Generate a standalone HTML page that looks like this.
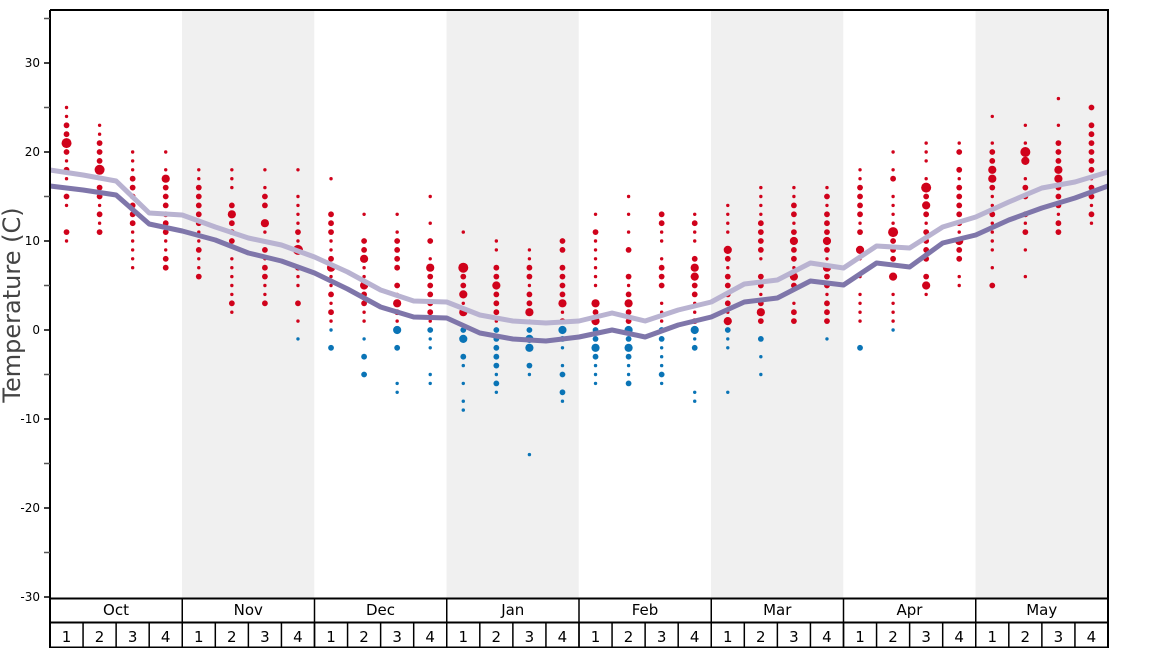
<!DOCTYPE html>
<html><head><meta charset="utf-8"><style>
body{margin:0;background:#fff}
svg{display:block;font-family:"DejaVu Sans","Liberation Sans",sans-serif}
</style></head><body>
<svg id="s" width="1168" height="648" viewBox="0 0 1168 648" xmlns="http://www.w3.org/2000/svg">
<rect x="182" y="10" width="132.25" height="588" fill="#f0f0f0"/>
<rect x="446.5" y="10" width="132.25" height="588" fill="#f0f0f0"/>
<rect x="711" y="10" width="132.25" height="588" fill="#f0f0f0"/>
<rect x="975.5" y="10" width="132.5" height="588" fill="#f0f0f0"/>
<g id="dots"></g>
<polyline id="l1" fill="none" stroke="#b9b3d1" stroke-width="5" stroke-linejoin="round"/>
<polyline id="l2" fill="none" stroke="#7f76aa" stroke-width="5" stroke-linejoin="round"/>
<g id="ax" stroke="#000" fill="none"></g>
<g id="tx" font-size="12" fill="#000"></g>
<text x="20" y="305" font-size="24" fill="#444" text-anchor="middle" transform="rotate(-90 20 305)">Temperature (C)</text>
</svg>
<script>
var NS="http://www.w3.org/2000/svg";
function el(p,t,a,txt){var e=document.createElementNS(NS,t);for(var k in a)e.setAttribute(k,a[k]);if(txt!=null)e.textContent=txt;p.appendChild(e);return e;}
var Y=function(T){return 330-8.9*T;};
var dark=[186,190,195,224,231,240,253,261,273,289,307,317,318,333,339,341,337,330,337,325,317,302,298,281,285,263,267,243,235,220,208,198,186];
var light=[170,175,181,213,215,227,238,245,257,272,290,301,302,315,321,323,321,313,321,310,302,284,280,263,268,246,248,227,217,202,188,182,172];
var bx=function(i){return 50+1058*i/32;};
document.getElementById('l1').setAttribute('points',light.map(function(y,i){return bx(i)+','+y}).join(' '));
document.getElementById('l2').setAttribute('points',dark.map(function(y,i){return bx(i)+','+y}).join(' '));
var cols=[
"25s 24s 23m 22m 21X 20m 19s 18m 17s 16s 15m 14s 11m 10s",
"23s 22s 21m 20m 19m 18X 17s 16m 15m 14s 13m 12s 11m",
"20s 19s 18s 17m 16m 15m 14m 13m 12m 11s 10s 9s 8s 7s",
"20s 18s 17L 16m 15m 14m 13m 12m 11m 10s 9s 8m 7m",
"18s 17s 16m 15m 14m 13m 12m 11s 10s 9m 8s 7s 6m",
"18s 17s 16s 14m 13L 12m 11m 10m 8s 7s 6s 5s 4s 3m 2s",
"18s 16s 15m 14m 12L 11s 10s 9m 8s 7m 6m 5s 4s 3m",
"18s 15s 14s 13s 12s 11m 10s 9X 7m 6s 5s 3m 1s -1s",
"17s 13m 12m 11m 10s 9s 8m 7L 6s 5s 4m 3s 2m 1s 0s -2m",
"13s 10m 9m 8L 7s 6s 5L 4m 3m 2s 1s -1s -3m -5m",
"13s 11s 10m 9m 8m 7m 5m 4s 3L 2m 1s 0L -2m -6s -7s",
"15s 12s 10m 8s 7L 6m 5m 4m 3m 2m 1s 0m -1s -2s -5s -6s",
"11s 7X 6m 5m 4L 3s 2L 0m -1L -3m -4s -6s -8s -9s",
"10s 9s 7m 6m 5L 4m 3m 2m 1s 0m -1m -2m -3m -4m -5s -6m -7s",
"9s 8s 7m 6m 5s 4m 3m 2L 1s 0m -1L -2L -4m -5s -14s",
"10m 9m 7m 6m 5m 4m 3L 2s 1m 0L -1m -2s -4s -5m -7m -8s",
"13s 11m 10s 9s 8s 7s 6s 5s 3L 2m 1L 0m -1m -2L -3m -4s -5s -6s",
"15s 13s 11s 9m 6m 5s 4m 3L 2m 1m 0L -1m -2L -3m -4s -5s -6m",
"13m 12m 11s 10s 8s 7m 6m 5m 3s 2s 1s 0m -1m -2s -3s -4s -5m -6s",
"13s 12m 11s 10s 8m 7L 6L 5m 4m 3s 2s 1m 0L -1s -2m -7s -8s",
"14s 13s 12s 11s 9L 8m 7s 6m 5m 4m 3m 2s 1L 0m -1s -2s -7s",
"16s 15s 14s 13s 12m 11m 10m 9m 8s 6m 5m 4s 3m 2L 1m -1m -3s -5s",
"16s 15s 14m 13m 12s 11m 10L 9m 8m 7s 6L 5m 3s 2m 1m",
"16s 15m 14s 13m 12m 11m 10L 9m 8s 7L 6m 5m 4s 3m 2m 1m -1s",
"18s 17s 16m 15m 14m 13m 12s 11m 9L 8s 6s 4s 3s 2s 1s -2m",
"20s 18s 17m 15s 14s 13s 12s 11X 10m 9m 8m 6L 4s 3s 2s 1s 0s",
"21s 20s 19s 17s 16X 15m 14L 13m 12s 11m 10m 9m 8m 6m 5L 4s",
"21s 20m 18m 17s 16m 15m 14m 13m 12m 11s 10L 9m 8m 6s 5s",
"24s 21s 20m 19m 18L 17L 16m 15s 14s 13m 12s 11s 10s 9s 7s 5m",
"23s 21s 20X 19L 17s 16m 15m 13m 12s 11m 9s 6s",
"26s 23s 21m 20m 19m 18L 17L 16m 15m 14m 13s 12m 11m",
"25m 23m 22m 21m 20m 19m 18m 17s 16m 15m 14s 13m 12s"];
var R={s:1.7,m:2.9,L:4.1,X:5};
var g=document.getElementById('dots');
cols.forEach(function(c,i){var x=50+1058*(i+0.5)/32;c.split(' ').forEach(function(d){var sz=d.slice(-1),T=parseFloat(d);el(g,'circle',{cx:x,cy:Y(T),r:R[sz],fill:T>0?'#d0021b':'#0a74b6'});});});
var ax=document.getElementById('ax'),tx=document.getElementById('tx');
el(ax,'path',{d:'M50 10H1108V648M50 10V648M50 598.5H1108M50 622.5H1108M50 647.5H1108','stroke-width':2});
for(var T=-30;T<=35;T+=5){var y=Y(T);el(ax,'path',{d:'M44 '+y+'H50','stroke-width':1.5,stroke:(T%10==0?'#000':'#555')});
 if(T%10==0&&T<35)el(tx,'text',{x:40,y:y+4,'text-anchor':'end'},T);}
var months=['Oct','Nov','Dec','Jan','Feb','Mar','Apr','May'];
for(var m=0;m<8;m++){var x0=50+1058*m/8;el(ax,'path',{d:'M'+x0+' 598V648','stroke-width':1.5});
 el(tx,'text',{x:x0+66,y:615,'text-anchor':'middle','font-size':15},months[m]);}
for(var w=0;w<32;w++){var x0=bx(w);el(ax,'path',{d:'M'+x0+' 622V648','stroke-width':1.5});
 el(tx,'text',{x:x0+16.5,y:642,'text-anchor':'middle','font-size':15},(w%4)+1);}
</script>
</body></html>
